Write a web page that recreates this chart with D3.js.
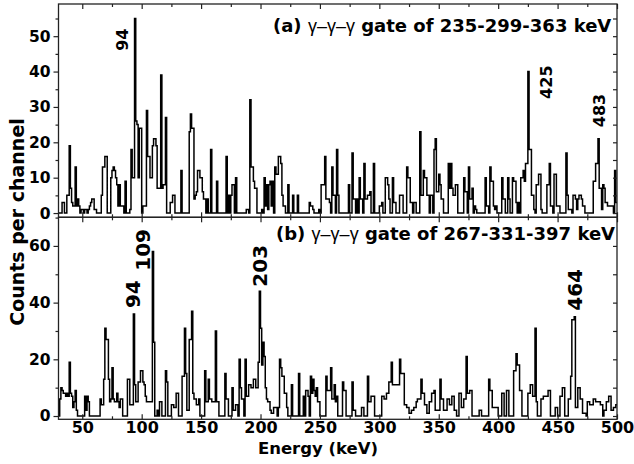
<!DOCTYPE html>
<html><head><meta charset="utf-8">
<script src="https://cdn.jsdelivr.net/npm/d3@7/dist/d3.min.js"></script>
<style>body{margin:0;background:#fff}text{font-family:"DejaVu Sans",sans-serif;font-weight:bold;fill:#000}</style>
</head><body>
<svg id="c" width="634" height="464"></svg>
<script>
// ---- data (1 keV per channel, first channel at 30 keV) ----
const startEnergy = 30;
const binWidth = 1;
const countsA = [
0,0,0,3,3,0,0,5,5,19, 7,3,2,2,13,2,4,2,0,1, 1,0,1,1,0,1,2,3,4,4, 1,1,0,0,0,0,5,13,13,16,
16,0,0,0,10,12,13,12,10,8, 2,8,2,2,2,0,9,0,0,0, 1,18,10,10,55,26,25,10,24,24, 0,2,2,2,29,16,16,10,10,19,
21,21,19,7,7,7,39,7,8,8, 27,0,0,0,3,3,5,5,0,0, 0,0,0,12,0,0,0,0,0,0, 23,28,24,24,4,5,6,12,12,10,
10,6,4,4,0,4,0,0,18,0, 0,0,0,9,0,0,0,0,0,0, 0,16,0,5,0,5,8,8,0,10, 0,0,0,0,0,0,0,0,1,1,
0,32,13,13,9,7,7,0,0,0, 0,1,0,10,2,8,1,8,9,2, 9,0,13,11,11,16,16,14,5,2, 2,0,0,8,0,0,0,5,0,0,
0,5,0,0,0,0,0,0,0,0, 0,3,2,2,1,0,0,0,0,1, 0,8,8,8,16,4,4,4,3,0, 13,5,5,0,18,5,0,0,0,0,
0,0,0,0,8,0,0,17,4,4, 0,4,0,10,4,4,0,14,4,4, 5,5,6,0,0,14,0,0,0,0, 2,2,3,0,0,10,10,8,4,0,
0,10,3,3,0,0,0,5,5,5, 0,0,0,13,10,10,3,3,0,3, 3,0,0,0,23,5,5,12,10,10, 5,5,0,5,5,0,18,21,6,6,
11,8,4,4,0,0,0,0,14,7, 14,7,5,5,8,8,0,0,0,0, 0,10,6,6,0,13,4,4,7,0, 2,1,0,0,0,0,0,0,0,10,
2,2,0,13,9,9,2,1,2,0, 0,0,0,10,4,4,0,0,10,4, 0,0,10,9,9,3,0,3,0,10, 10,12,9,14,14,40,18,18,5,5,
1,0,8,8,11,11,1,0,0,0, 0,8,8,14,2,2,0,11,11,2, 2,2,0,0,0,0,0,17,5,1, 1,1,0,5,5,4,1,4,5,5,
4,2,2,0,0,0,0,0,0,0, 9,9,14,14,21,7,7,1,8,7, 3,3,2,2,2,2,2,0,12,3
];
const countsB = [
0,6,10,9,8,8,7,8,7,19, 8,7,3,5,9,2,0,0,0,0, 0,0,7,2,7,5,0,0,0,0, 0,0,0,0,0,6,4,4,13,31,
27,27,13,5,6,17,6,5,5,8, 5,3,6,6,0,0,0,0,13,13, 4,4,4,36,11,5,5,12,12,16, 16,12,11,7,5,5,5,5,5,58,
26,0,0,2,0,5,5,0,0,0, 16,12,0,0,0,4,4,3,3,8, 8,0,0,0,14,14,31,15,2,2, 27,27,37,8,6,6,4,4,6,0,
0,0,0,16,5,5,13,6,6,5, 5,5,30,5,5,0,0,0,0,0, 15,6,6,0,0,0,10,2,2,4, 4,0,20,10,6,6,0,20,7,7,
11,11,10,10,13,13,10,10,19,44, 31,18,26,21,10,6,5,5,2,1, 1,3,3,3,0,3,20,17,14,14, 8,8,3,0,0,0,11,0,0,0,
0,0,15,0,0,0,7,0,9,9, 7,0,14,8,13,9,7,10,5,5, 0,0,0,0,0,14,9,9,9,17, 6,6,11,5,7,0,0,0,0,12,
9,9,0,0,0,0,0,12,2,2, 0,0,0,0,0,3,3,0,0,0, 14,5,5,7,7,7,0,0,0,0, 0,0,7,7,6,6,8,8,12,12,
19,11,11,11,11,11,11,20,15,15, 15,4,4,3,3,1,1,2,2,3, 3,5,6,6,6,13,8,8,4,4, 1,1,5,5,8,8,9,2,2,2,
2,13,6,6,2,2,2,6,6,4, 4,7,7,2,2,0,0,8,8,3, 3,6,6,21,8,8,9,9,0,0, 0,0,0,0,2,2,0,0,0,0,
0,0,13,9,9,3,3,3,3,3, 0,0,0,8,8,0,0,9,9,0, 0,0,0,16,16,22,18,18,9,9, 0,0,0,0,0,8,8,11,11,7,
7,31,5,0,0,0,6,6,7,7, 7,7,9,9,0,0,0,0,3,3, 0,0,7,7,10,10,0,0,0,6, 6,14,34,34,35,3,3,10,10,6,
6,1,1,1,0,5,5,4,4,4, 6,6,5,5,5,5,4,4,0,2, 2,5,5,7,7,2,2,3,3,4
];
const xTicks = [50,100,150,200,250,300,350,400,450,500];
const xMinorTicks = [75,125,175,225,275,325,375,425,475];
const yTicksA = [0,10,20,30,40,50];
const yMinorA = [5,15,25,35,45,55];
const yTicksB = [0,20,40,60];
const yMinorB = [10,30,50,70];
const peakTextA = ["94","425","483"];
const peakEnergyA = [94,425,484];
const peakCountA = [49,37,29];
const peakTextB = ["94","109","203","464"];
const peakEnergyB = [93,109,199,464];
const peakCountB = [43,58.6,53,44.5];
const titleA = ["(a) ", "\u03b3\u2013\u03b3\u2013\u03b3", " gate of 235-299-363 keV"];
const titleB = ["(b) ", "\u03b3\u2013\u03b3\u2013\u03b3", " gate of 267-331-397 keV"];

// ---- layout ----
const L = 58.5, R = 617, T = 4, MID = 217.3, B = 419.3;
const svg = d3.select("#c");
const x = d3.scaleLinear([30, 500], [L, R]);
const yA = d3.scaleLinear([-1.2, 59.1], [MID, T]);
const yB = d3.scaleLinear([-1.16, 70.1], [B, MID]);

svg.append("defs").append("clipPath").attr("id","clipA").append("rect")
  .attr("x",L).attr("y",T).attr("width",R-L).attr("height",MID-T);
svg.select("defs").append("clipPath").attr("id","clipB").append("rect")
  .attr("x",L).attr("y",MID).attr("width",R-L).attr("height",B-MID);

function histo(counts, y, clip){
  const pts = counts.map((c,i)=>[startEnergy+i*binWidth, c]);
  pts.push([startEnergy+counts.length*binWidth, counts[counts.length-1]]);
  const line = d3.line().x(d=>x(d[0])).y(d=>y(d[1])).curve(d3.curveStepAfter);
  svg.append("path").attr("d", line(pts)).attr("fill","none")
    .attr("stroke","#000").attr("stroke-width",1.5).attr("clip-path",`url(#${clip})`);
}
histo(countsA, yA, "clipA");
histo(countsB, yB, "clipB");

function styleAxis(g){ g.select(".domain").remove(); g.selectAll("line").attr("stroke","#222").attr("stroke-width",1.2); }

function panelAxes(y, top, bot, majY, minY, showX){
  svg.append("g").attr("transform",`translate(0,${bot})`)
    .call(d3.axisBottom(x).tickValues(xTicks).tickSize(-5).tickFormat(showX?d3.format("d"):"").tickPadding(2))
    .call(styleAxis).call(g=>g.selectAll("text").attr("font-size",16));
  svg.append("g").attr("transform",`translate(0,${bot})`)
    .call(d3.axisBottom(x).tickValues(xMinorTicks).tickSize(-3).tickFormat("")).call(styleAxis);
  svg.append("g").attr("transform",`translate(0,${top})`)
    .call(d3.axisTop(x).tickValues(xTicks).tickSize(-5).tickFormat("")).call(styleAxis);
  svg.append("g").attr("transform",`translate(0,${top})`)
    .call(d3.axisTop(x).tickValues(xMinorTicks).tickSize(-3).tickFormat("")).call(styleAxis);
  svg.append("g").attr("transform",`translate(${L},0)`)
    .call(d3.axisLeft(y).tickValues(majY).tickSize(5).tickPadding(3).tickFormat(d3.format("d")))
    .call(styleAxis).call(g=>g.selectAll("text").attr("font-size",15.5));
  svg.append("g").attr("transform",`translate(${L},0)`)
    .call(d3.axisLeft(y).tickValues(minY.filter(v=>y(v)>=top)).tickSize(3).tickFormat("")).call(styleAxis);
  svg.append("g").attr("transform",`translate(${R},0)`)
    .call(d3.axisRight(y).tickValues(majY.concat(minY).filter(v=>y(v)>=top+1)).tickSize(-4).tickFormat("")).call(styleAxis);
  svg.append("rect").attr("x",L).attr("y",top).attr("width",R-L).attr("height",bot-top)
    .attr("fill","none").attr("stroke","#222").attr("stroke-width",1.3);
}
panelAxes(yA, T, MID, yTicksA, yMinorA, false);
panelAxes(yB, MID, B, yTicksB, yMinorB, true);

function title(parts, tx, ty){
  const t = svg.append("text").attr("x",tx).attr("y",ty).attr("font-size",18);
  t.append("tspan").text(parts[0]);
  t.append("tspan").attr("font-weight","normal").attr("font-family","Liberation Sans, Arial, sans-serif").text(parts[1]);
  t.append("tspan").text(parts[2]);
}
title(titleA, 273, 32);
title(titleB, 276, 240);

function peaks(texts, energies, counts, y, size, dxs){
  texts.forEach((s,i)=>{
    svg.append("text").attr("font-size",size).attr("text-anchor","middle")
      .attr("transform",`translate(${x(energies[i])+dxs[i]},${y(counts[i])}) rotate(-90)`).text(s);
  });
}
peaks(peakTextA, peakEnergyA, peakCountA, yA, 16, [-6.5, 24, 7]);
peaks(peakTextB, peakEnergyB, peakCountB, yB, 20, [7, -2, 8, 8]);

svg.append("text").attr("font-size",16.5).attr("text-anchor","middle")
  .attr("x",318).attr("y",454).text("Energy (keV)");
svg.append("text").attr("font-size",19).attr("text-anchor","middle")
  .attr("transform","translate(23.5,222) rotate(-90)").text("Counts per channel");
</script>
</body></html>
